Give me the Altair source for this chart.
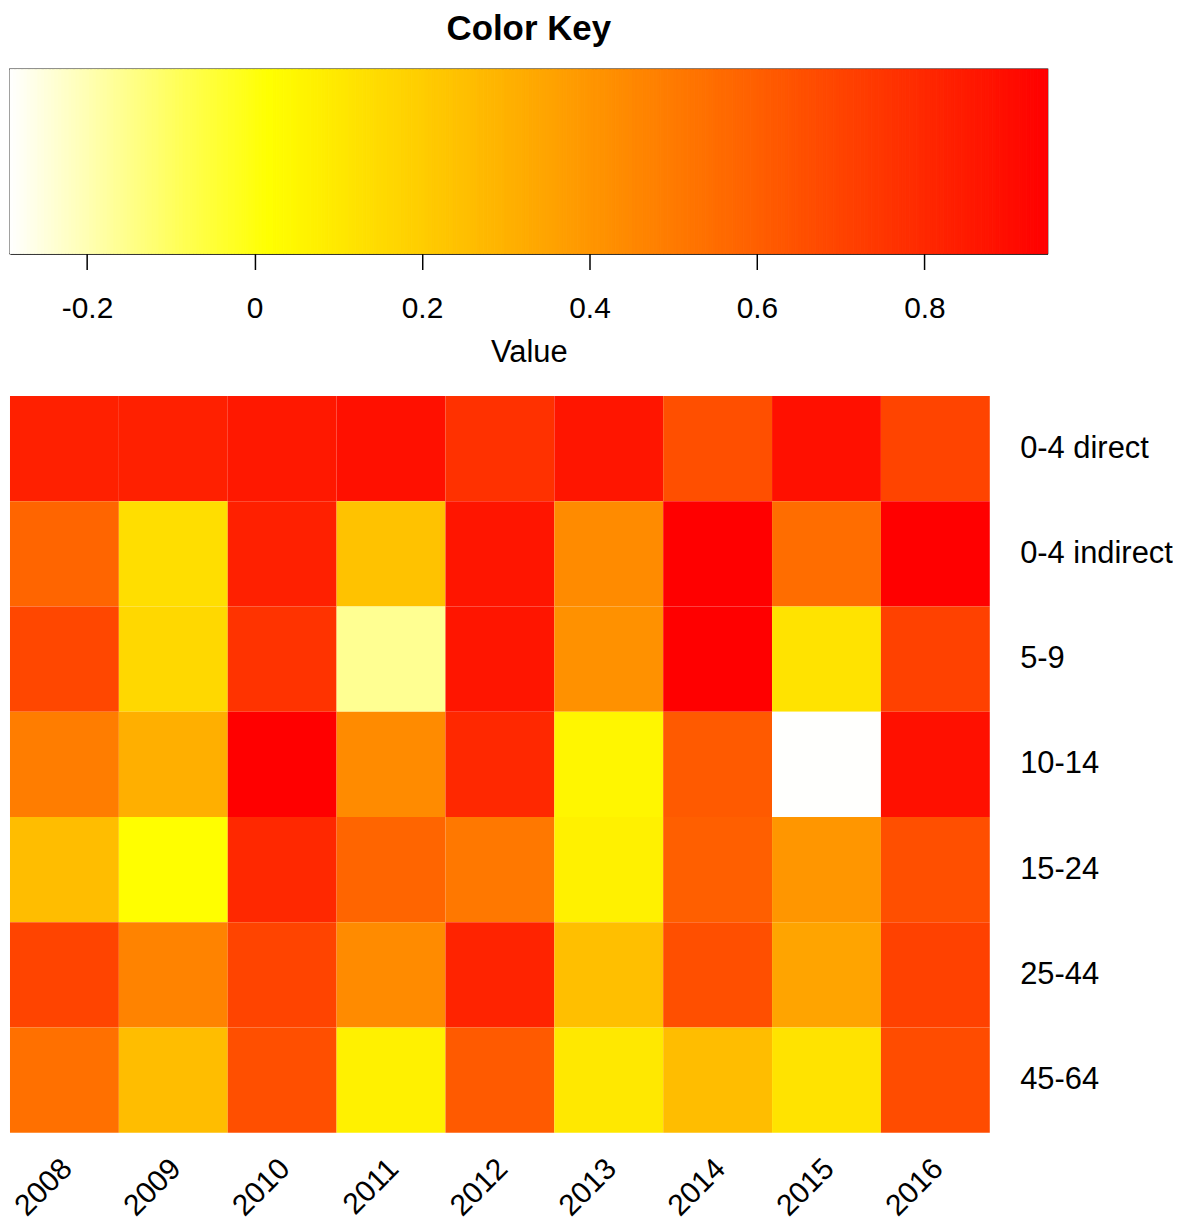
import altair as alt
import numpy as np
import pandas as pd

years = ["2008", "2009", "2010", "2011", "2012", "2013", "2014", "2015", "2016"]
groups = ["0-4 direct", "0-4 indirect", "5-9", "10-14", "15-24", "25-44", "45-64"]

v_0_4_direct = [0.83, 0.83, 0.86, 0.89, 0.77, 0.87, 0.66, 0.89, 0.70]
v_0_4_indirect = [0.58, 0.14, 0.83, 0.24, 0.87, 0.44, 0.95, 0.55, 0.95]
v_5_9 = [0.69, 0.16, 0.76, -0.16, 0.87, 0.42, 0.95, 0.12, 0.71]
v_10_14 = [0.49, 0.31, 0.95, 0.44, 0.80, 0.05, 0.62, -0.29, 0.89]
v_15_24 = [0.26, 0.02, 0.80, 0.58, 0.51, 0.07, 0.60, 0.40, 0.66]
v_25_44 = [0.70, 0.47, 0.70, 0.44, 0.82, 0.25, 0.66, 0.35, 0.71]
v_45_64 = [0.54, 0.26, 0.66, 0.07, 0.62, 0.10, 0.26, 0.12, 0.67]

key_ticks = [-0.2, 0, 0.2, 0.4, 0.6, 0.8]
key_min, key_yellow, key_max = -0.292, 0.018, 0.947

rows = [v_0_4_direct, v_0_4_indirect, v_5_9, v_10_14, v_15_24, v_25_44, v_45_64]
records = []
for g, vals in zip(groups, rows):
    for y, v in zip(years, vals):
        records.append({"group": g, "year": y, "value": v})
df = pd.DataFrame(records)

edges = np.linspace(key_min, key_max, 301)
key_df = pd.DataFrame({"a": edges[:-1], "b": edges[1:], "value": (edges[:-1] + edges[1:]) / 2})

FONT = "Liberation Sans"
color_scale = alt.Scale(type="linear", domain=[key_min, key_yellow, key_max],
                        range=["#FFFFFF", "#FFFF00", "#FF0000"], interpolate="rgb")

key = alt.Chart(key_df).mark_rect(strokeWidth=1).encode(
    x=alt.X("a:Q", scale=alt.Scale(domain=[key_min, key_max], nice=False, zero=False),
            axis=alt.Axis(values=key_ticks, title="Value", grid=False, tickSize=16,
                          tickWidth=1.5, tickColor="black", domainColor="black", domainWidth=1.5,
                          labelFontSize=30, labelFont=FONT, labelColor="black", labelPadding=24,
                          labelExpr="datum.value == 0 ? '0' : (datum.value < 0 ? '-' + format(-datum.value, '.1f') : format(datum.value, '.1f'))",
                          titleFontSize=31, titleFont=FONT, titleFontWeight="normal",
                          titleColor="black", titlePadding=14, labelFlush=False)),
    x2="b:Q",
    color=alt.Color("value:Q", scale=color_scale, legend=None),
    stroke=alt.Stroke("value:Q", scale=color_scale, legend=None),
).properties(
    width=1042, height=185,
    title=alt.TitleParams("Color Key", fontSize=35, font=FONT, fontWeight="bold",
                          color="black", anchor="middle", offset=22),
    view=alt.ViewBackground(stroke="black", strokeWidth=1.5),
)

heat = alt.Chart(df).mark_rect().encode(
    x=alt.X("year:N", sort=years,
            axis=alt.Axis(title=None, ticks=False, domain=False, labelAngle=-45,
                          labelAlign="right", labelBaseline="middle", labelOffset=3,
                          labelPadding=31, labelFontSize=30, labelFont=FONT, labelColor="black")),
    y=alt.Y("group:N", sort=groups,
            axis=alt.Axis(title=None, orient="right", ticks=False, domain=False,
                          labelAlign="left", labelBaseline="middle", labelPadding=30,
                          labelFontSize=31, labelFont=FONT, labelColor="black")),
    color=alt.Color("value:Q", scale=color_scale, legend=None),
).properties(width=984, height=740, view=alt.ViewBackground(strokeOpacity=0))

chart = alt.vconcat(key, heat, spacing=143, bounds="flush").properties(
    padding={"left": 0, "top": 0, "right": 0, "bottom": 0}
).configure(background="white")

chart.save("out.html", embed_options={"renderer": "svg", "actions": False})
